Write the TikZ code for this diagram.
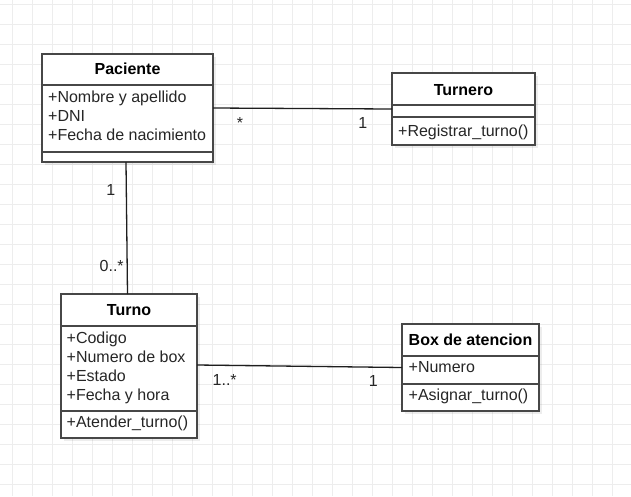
\documentclass[tikz,border=0pt]{standalone}
\usepackage{fontspec}
\setmainfont{Liberation Sans}
\usetikzlibrary{shadows}
\definecolor{gridc}{HTML}{EDEDED}
\definecolor{edgec}{HTML}{474747}
\definecolor{linec}{HTML}{1E1E1E}
\definecolor{txtc}{HTML}{262626}
\tikzset{
  gridline/.style={draw=gridc, line width=1pt},
  classbox/.style={draw=edgec, line width=1.4pt, fill=white, anchor=north west,
    inner sep=0pt, outer sep=0pt,
    drop shadow={shadow xshift=3pt, shadow yshift=-3pt, opacity=0.07, fill=black}},
  comp/.style={draw=edgec, line width=1.4pt, anchor=north west, inner sep=0pt, outer sep=0pt},
  hdr/.style={anchor=base, inner sep=0pt, font=\fontsize{16}{19.2}\selectfont\bfseries, text=black},
  member/.style={anchor=base west, inner sep=0pt, font=\fontsize{16}{19.2}\selectfont, text=txtc},
  mult/.style={anchor=base, inner sep=0pt, font=\fontsize{16}{19.2}\selectfont, text=txtc},
  assoc/.style={draw=linec, line width=1.3pt},
}
\begin{document}
\begin{tikzpicture}[x=1pt, y=-1pt]
\useasboundingbox[fill=white] (0,0) rectangle (631,496);
% grid
\foreach \gx in {12,32,...,632} \draw[gridline] (\gx,0) -- (\gx,496);
\foreach \gy in {4,24,...,484} \draw[gridline] (0,\gy) -- (631,\gy);

% ---- Paciente ----
\node[classbox, minimum width=171, minimum height=108] (pac) at (42,54) {};
\node[comp, minimum width=171, minimum height=31] (pachead) at (42,54) {};
\node[comp, minimum width=171, minimum height=67] (pacattr) at (42,85) {};
\node[comp, minimum width=171, minimum height=10] (pacmeth) at (42,152) {};
\node[hdr] (pacname) at (127.5,74.3) {Paciente};
\foreach \t [count=\i] in {+Nombre y apellido,+DNI,+Fecha de nacimiento}
  \node[member] (paca\i) at (48,102.3+19.2*\i-19.2) {\t};

% ---- Turnero ----
\node[classbox, minimum width=143, minimum height=72] (tur) at (392,73) {};
\node[comp, minimum width=143, minimum height=32] (turhead) at (392,73) {};
\node[comp, minimum width=143, minimum height=12] (turattr) at (392,105) {};
\node[comp, minimum width=143, minimum height=28] (turmeth) at (392,117) {};
\node[hdr] (turname) at (463.5,95.7) {Turnero};
\node[member] (turm1) at (398,136.7) {+Registrar\_turno()};

% ---- Turno ----
\node[classbox, minimum width=136, minimum height=144] (turno) at (61,294) {};
\node[comp, minimum width=136, minimum height=32] (turnohead) at (61,294) {};
\node[comp, minimum width=136, minimum height=85] (turnoattr) at (61,326) {};
\node[comp, minimum width=136, minimum height=27] (turnometh) at (61,411) {};
\node[hdr] (turnoname) at (129,315) {Turno};
\foreach \t [count=\i] in {+Codigo,+Numero de box,+Estado,+Fecha y hora}
  \node[member] (turnoa\i) at (66.5,343+19.2*\i-19.2) {\t};
\node[member] (turnom1) at (66.5,427.7) {+Atender\_turno()};

% ---- Box de atencion ----
\node[classbox, minimum width=137, minimum height=87] (box) at (402,324) {};
\node[comp, minimum width=137, minimum height=32] (boxhead) at (402,324) {};
\node[comp, minimum width=137, minimum height=28] (boxattr) at (402,356) {};
\node[comp, minimum width=137, minimum height=27] (boxmeth) at (402,384) {};
\node[hdr] (boxname) at (470.5,345) {Box de atencion};
\node[member] (boxa1) at (408.5,372.3) {+Numero};
\node[member] (boxm1) at (408.5,400.7) {+Asignar\_turno()};

% ---- associations ----
\draw[assoc] (pac.east) -- (tur.west);
\draw[assoc] ([xshift=-1.5pt]pac.south) -- ([xshift=-1.5pt]turno.north);
\draw[assoc] ([yshift=1pt]turno.east) -- (box.west);

% ---- multiplicities ----
\node[mult] (m1) at (240,128) {*};
\node[mult] (m2) at (362.7,128.3) {1};
\node[mult] (m3) at (110.7,195) {1};
\node[mult] (m4) at (111.7,271) {0..*};
\node[mult] (m5) at (224.7,385) {1..*};
\node[mult] (m6) at (373.3,386) {1};
\end{tikzpicture}
\end{document}
